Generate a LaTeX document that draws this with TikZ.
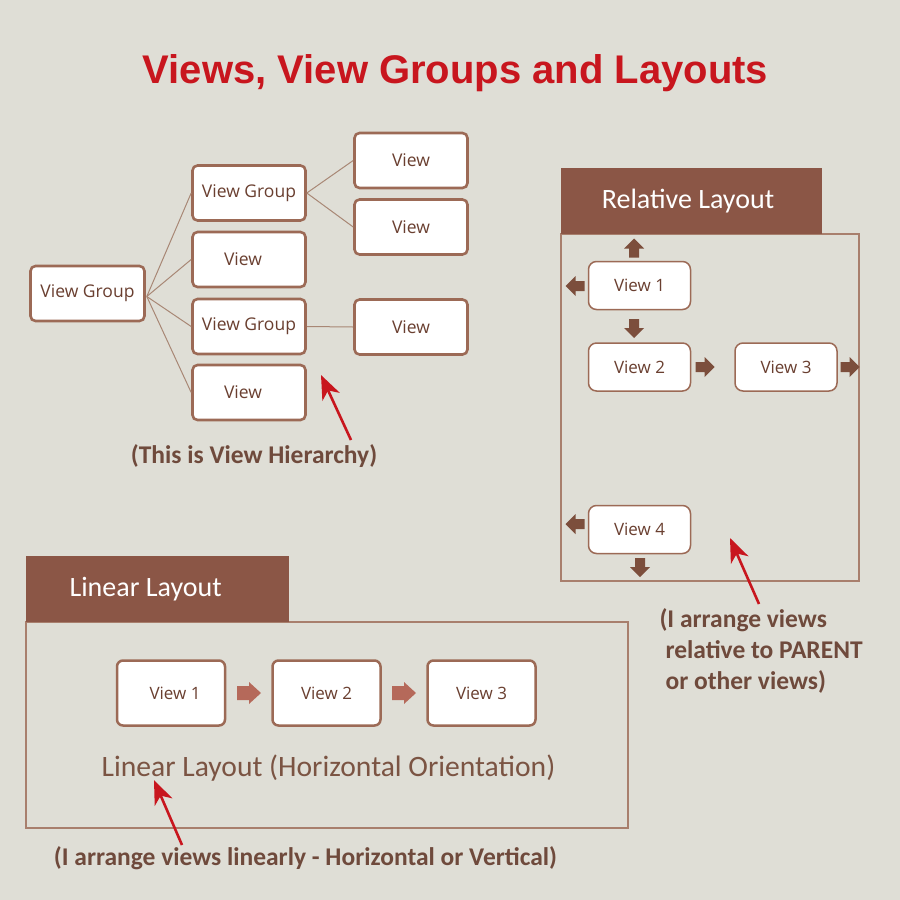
\documentclass[tikz,border=0pt]{standalone}
\usepackage{fontspec}
\setmainfont{Carlito}
\newfontfamily\titlefont{Liberation Sans}
\newfontfamily\boxfont{Open Sans}
\usetikzlibrary{arrows.meta}
\definecolor{bgc}{HTML}{DFDED6}
\definecolor{titlered}{HTML}{C8161E}
\definecolor{boxedge}{HTML}{9C6A56}
\definecolor{boxtext}{HTML}{6A3F30}
\definecolor{linkc}{HTML}{A88775}
\definecolor{headc}{HTML}{8B5646}
\definecolor{framec}{HTML}{A87F6D}
\definecolor{annotc}{HTML}{6F4A3C}
\definecolor{ltext}{HTML}{7B5443}
\definecolor{darrow}{HTML}{7C4E3C}
\definecolor{larrow}{HTML}{B5695A}
\definecolor{redc}{HTML}{C8161E}
\tikzset{
  hbox/.style={draw=boxedge, line width=2.6pt, fill=white, rounded corners=5pt,
    minimum width=113pt, minimum height=55pt, inner sep=0pt,
    font=\boxfont\fontsize{17.5}{20}\selectfont, text=boxtext},
  rbox/.style={draw=boxedge, line width=1.5pt, fill=white, rounded corners=8pt,
    minimum width=102pt, minimum height=48pt, inner sep=0pt,
    font=\boxfont\fontsize{17}{20}\selectfont, text=boxtext},
  lbox/.style={draw=boxedge, line width=2.5pt, fill=white, rounded corners=6pt,
    minimum width=108pt, minimum height=65pt, inner sep=0pt,
    font=\boxfont\fontsize{17}{20}\selectfont, text=boxtext},
  link/.style={draw=linkc, line width=1pt},
  frameline/.style={draw=framec, line width=1.8pt},
  header/.style={fill=headc},
  headtext/.style={font=\fontsize{28}{34}\selectfont, text=white},
  annot/.style={font=\bfseries\fontsize{25.5}{31}\selectfont, text=annotc},
  darrowpic/.pic={\fill[darrow] (-9.5,-5) -- (-0.5,-5) -- (-0.5,-10) -- (9.5,0)
      -- (-0.5,10) -- (-0.5,5) -- (-9.5,5) -- cycle;},
  larrowpic/.pic={\fill[larrow] (-12,-7) -- (0,-7) -- (0,-11) -- (12,0)
      -- (0,11) -- (0,7) -- (-12,7) -- cycle;},
  redarrow/.style={draw=redc, line width=2.6pt,
    -{Stealth[length=24pt, width=19pt, inset=7pt]}}
}
\begin{document}
\begin{tikzpicture}[x=1pt,y=-1pt]
\fill[bgc] (0,0) rectangle (900,900);
\useasboundingbox (0,0) rectangle (900,900);

% title
\node[font=\titlefont\bfseries\fontsize{40}{48}\selectfont, text=titlered, anchor=base]
  (title) at (455.5,83) {Views, View Groups and Layouts};

% ---------- view hierarchy ----------
\node[hbox, minimum width=114pt] (root) at (87.5,293.5) {View Group};
\node[hbox] (vg1) at (249,193) {View Group};
\node[hbox] (v1) at (249,259.5) {View\hspace*{12pt}};
\node[hbox] (vg2) at (249,326.5) {View Group};
\node[hbox] (v2) at (249,392.5) {View\hspace*{12pt}};
\node[hbox] (r1) at (411,160.5) {View};
\node[hbox] (r2) at (411,227) {View};
\node[hbox] (r3) at (411,327) {View};

\coordinate (rootout) at ([xshift=1pt,yshift=-3pt]root.east);
\foreach \n in {vg1,v1,vg2,v2}
  \draw[link] (rootout) -- (\n.west);
\draw[link] (vg1.east) -- (r1.west);
\draw[link] (vg1.east) -- (r2.west);
\draw[link] (vg2.east) -- (r3.west);

\coordinate (hiertail) at (351,440);
\coordinate (hiertip) at (321,375);
\draw[redarrow] (hiertail) -- (hiertip);
\node[annot, anchor=base] (hierann) at (254,463) {(This is View Hierarchy)};

% ---------- relative layout ----------
\draw[frameline] (561,234) rectangle (859,581);
\fill[header] (561,168) rectangle (822,234);
\node[headtext] (relhead) at (688,201) {Relative Layout};

\node[rbox] (rv1) at (639.5,285.5) {View 1};
\node[rbox] (rv2) at (639.5,367) {View 2};
\node[rbox] (rv3) at (786,367) {View 3};
\node[rbox] (rv4) at (639.5,529.5) {View 4};

\pic[rotate=90] at (634,248) {darrowpic};
\pic[rotate=180] at (575,286) {darrowpic};
\pic[rotate=-90] at (634,328.5) {darrowpic};
\pic at (705,367) {darrowpic};
\pic at (850,367) {darrowpic};
\pic[rotate=180] at (575,524) {darrowpic};
\pic[rotate=-90] at (640,567.5) {darrowpic};

\coordinate (reltail) at (759,604);
\coordinate (reltip) at (730,538);
\draw[redarrow] (reltail) -- (reltip);
\node[annot, anchor=base west] (relann1) at (656,627) {(I arrange views};
\node[annot, anchor=base west] (relann2) at (662,658) {relative to PARENT};
\node[annot, anchor=base west] (relann3) at (662,689) {or other views)};

% ---------- linear layout ----------
\draw[frameline] (26,622) rectangle (628,828);
\fill[header] (26,556) rectangle (289,622);
\node[headtext, anchor=west] (linhead) at (66,589) {Linear Layout};

\node[lbox] (lv1) at (171,693) {\hspace*{8pt}View 1};
\node[lbox] (lv2) at (326.5,693) {View 2};
\node[lbox] (lv3) at (481.5,693) {View 3};
\pic at (249,693) {larrowpic};
\pic at (404,693) {larrowpic};

\node[font=\fontsize{29.6}{36}\selectfont, text=ltext, anchor=base] (lincap)
  at (328.5,776) {Linear Layout (Horizontal Orientation)};

\coordinate (lintail) at (182,845);
\coordinate (lintip) at (154,780);
\draw[redarrow] (lintail) -- (lintip);
\node[annot, anchor=base] (linann) at (305.5,865)
  {(I arrange views linearly - Horizontal or Vertical)};
\end{tikzpicture}
\end{document}
